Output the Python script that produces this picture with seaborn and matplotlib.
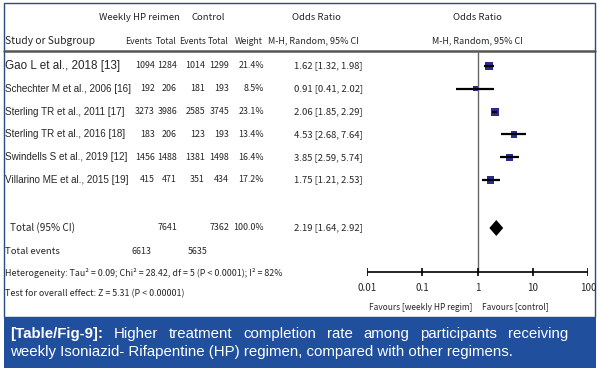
import numpy as np
import pandas as pd
import seaborn as sns
import matplotlib.pyplot as plt
from matplotlib.patches import Rectangle

# data
studies = ["Gao L et al., 2018 [13]", "Schechter M et al., 2006 [16]",
           "Sterling TR et al., 2011 [17]", "Sterling TR et al., 2016 [18]",
           "Swindells S et al., 2019 [12]", "Villarino ME et al., 2015 [19]"]
hp_events = [1094, 192, 3273, 183, 1456, 415]
hp_total = [1284, 206, 3986, 206, 1488, 471]
ctl_events = [1014, 181, 2585, 123, 1381, 351]
ctl_total = [1299, 193, 3745, 193, 1498, 434]
weights = [21.4, 8.5, 23.1, 13.4, 16.4, 17.2]
or_est = [1.62, 0.91, 2.06, 4.53, 3.85, 1.75]
or_lo = [1.32, 0.41, 1.85, 2.68, 2.59, 1.21]
or_hi = [1.98, 2.02, 2.29, 7.64, 5.74, 2.53]
pooled = (2.19, 1.64, 2.92)
totals = (7641, 7362)
total_events = (6613, 5635)
xticks = [0.01, 0.1, 1, 10, 100]
xtick_labels = ["0.01", "0.1", "1", "10", "100"]

caption1 = "[Table/Fig-9]: Higher treatment completion rate among participants receiving"
caption2 = "weekly Isoniazid- Rifapentine (HP) regimen, compared with other regimens."

df = pd.DataFrame({"study": studies, "e1": hp_events, "n1": hp_total,
                   "e2": ctl_events, "n2": ctl_total, "w": weights,
                   "or": or_est, "lo": or_lo, "hi": or_hi})

sns.set_style("white")
sans = ["Liberation Sans", "DejaVu Sans"]
narrow = ["Noto Sans CJK SC", "DejaVu Sans"]   # narrower latin glyphs for the table
plt.rcParams["font.family"] = narrow

fig = plt.figure(figsize=(5.99, 3.71), dpi=100)
ax = fig.add_axes([0, 0, 1, 1])
ax.set_xlim(0, 599)
ax.set_ylim(371, 0)
ax.axis("off")

# frame + caption box
ax.add_patch(Rectangle((4, 3), 591, 314, fill=False, ec="#2b4c7e", lw=1))
ax.add_patch(Rectangle((4, 318), 592, 50, color="#1f4f9d", lw=0))

# header
hs = 6.9
ax.text(139, 18, "Weekly HP reimen", ha="center", va="center", fontsize=hs)
ax.text(208, 18, "Control", ha="center", va="center", fontsize=hs)
ax.text(316, 18, "Odds Ratio", ha="center", va="center", fontsize=hs)
ax.text(477, 18, "Odds Ratio", ha="center", va="center", fontsize=hs)
ax.text(5, 41, "Study or Subgroup", ha="left", va="center", fontsize=7.4)
for xr, lab in [(152, "Events"), (177, "Total"), (206, "Events"),
                (229, "Total"), (263, "Weight")]:
    ax.text(xr, 41, lab, ha="right", va="center", fontsize=6.2)
ax.text(313, 41, "M-H, Random, 95% CI", ha="center", va="center", fontsize=6.5)
ax.text(477, 41, "M-H, Random, 95% CI", ha="center", va="center", fontsize=6.5)
ax.plot([4, 595], [51, 51], color="#555555", lw=1.8)

# study rows
num = 6.4
row_y = 66 + 22.8 * np.arange(len(df))
for i, r in df.iterrows():
    y = row_y[i]
    ax.text(5, y, r.study, ha="left", va="center", family=sans,
            fontsize=8.4 if i == 0 else 7.1)
    ax.text(155, y, f"{r.e1}", ha="right", va="center", fontsize=num)
    ax.text(177, y, f"{r.n1}", ha="right", va="center", fontsize=num)
    ax.text(205, y, f"{r.e2}", ha="right", va="center", fontsize=num)
    ax.text(229, y, f"{r.n2}", ha="right", va="center", fontsize=num)
    ax.text(264, y, f"{r.w:.1f}%", ha="right", va="center", fontsize=num)
    ax.text(363, y, f"{r['or']:.2f} [{r.lo:.2f}, {r.hi:.2f}]",
            ha="right", va="center", fontsize=6.8)

# total row
ty = 228
ax.text(10, ty, "Total (95% CI)", ha="left", va="center", fontsize=7.2)
ax.text(177, ty, f"{totals[0]}", ha="right", va="center", fontsize=num)
ax.text(229, ty, f"{totals[1]}", ha="right", va="center", fontsize=num)
ax.text(264, ty, f"{sum(weights):.1f}%", ha="right", va="center", fontsize=num)
ax.text(363, ty, f"{pooled[0]:.2f} [{pooled[1]:.2f}, {pooled[2]:.2f}]",
        ha="right", va="center", fontsize=6.8)

ax.text(5, 251, "Total events", ha="left", va="center", fontsize=6.9)
ax.text(152, 251, f"{total_events[0]}", ha="right", va="center", fontsize=num)
ax.text(208, 251, f"{total_events[1]}", ha="right", va="center", fontsize=num)
ax.text(5, 273, "Heterogeneity: Tau\u00b2 = 0.09; Chi\u00b2 = 28.42, df = 5 (P < 0.0001); I\u00b2 = 82%",
        ha="left", va="center", fontsize=6.4)
ax.text(5, 294, "Test for overall effect: Z = 5.31 (P < 0.00001)",
        ha="left", va="center", fontsize=6.4)

# forest plot on a log axis
ax2 = fig.add_axes([367 / 599, 0, 221 / 599, 1])
ax2.set_xscale("log")
ax2.set_xlim(0.01, 100)
ax2.set_ylim(371, 0)
ax2.axis("off")
ax2.patch.set_alpha(0)

ax2.vlines(1, 52, 272, color="#666666", lw=1)
ax2.hlines(row_y, df.lo, df.hi, color="black", lw=1.6)
sns.scatterplot(x=df["or"], y=row_y, size=df.w, sizes=(14, 34), marker="s",
                color="#2b2b8f", edgecolor="none", legend=False, ax=ax2)
est, lo, hi = pooled
ax2.fill([lo, est, hi, est], [ty, ty - 8, ty, ty + 8], color="black", lw=0)

ax2.hlines(272, xticks[0], xticks[-1], color="black", lw=1.2)
ax2.vlines(xticks, 268, 276, color="black", lw=1.2)
for xv, lab in zip(xticks, xtick_labels):
    ax2.text(xv, 288, lab, ha="center", va="center", fontsize=7)
ax2.text(0.82, 307, "Favours [weekly HP regim]", ha="right", va="center", fontsize=6.0)
ax2.text(1.22, 307, "Favours [control]", ha="left", va="center", fontsize=6.0)

# caption: first line justified, second left aligned
cap = dict(color="white", fontsize=10.8, va="center", ha="left", family=sans)
renderer = fig.canvas.get_renderer()
words = caption1.split()
wtexts = [ax.text(0, 334, w, fontweight="bold" if k == 0 else "normal", **cap)
          for k, w in enumerate(words)]
widths = [t.get_window_extent(renderer).width for t in wtexts]
gap = (568 - 10 - sum(widths)) / (len(words) - 1)
x = 10
for t, wd in zip(wtexts, widths):
    t.set_x(x)
    x += wd + gap
ax.text(10, 352, caption2, **cap)

fig.savefig("out.png", dpi=100)
